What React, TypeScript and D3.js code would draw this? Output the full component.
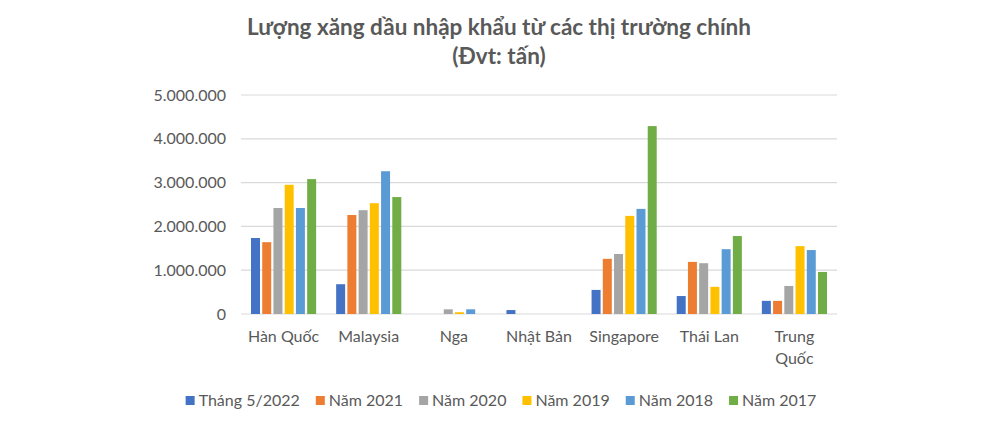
import { useRef, useEffect } from 'react';
import * as d3 from 'd3';

const CATEGORIES = ["Hàn Quốc", "Malaysia", "Nga", "Nhật Bản", "Singapore", "Thái Lan", "Trung Quốc"];
const SERIES = ["Tháng 5/2022", "Năm 2021", "Năm 2020", "Năm 2019", "Năm 2018", "Năm 2017"];
const COLORS = ["#4472C4", "#ED7D31", "#A5A5A5", "#FFC000", "#5B9BD5", "#70AD47"];

// values in tons, one array per series, ordered like CATEGORIES
const THANG_5_2022 = [1735000, 680000, 0, 90000, 550000, 410000, 300000];
const NAM_2021 = [1640000, 2260000, 0, 0, 1260000, 1190000, 300000];
const NAM_2020 = [2420000, 2370000, 107000, 0, 1370000, 1160000, 640000];
const NAM_2019 = [2950000, 2530000, 40000, 0, 2240000, 620000, 1550000];
const NAM_2018 = [2420000, 3260000, 107000, 0, 2400000, 1480000, 1460000];
const NAM_2017 = [3080000, 2670000, 0, 0, 4290000, 1780000, 960000];
const VALUES = [THANG_5_2022, NAM_2021, NAM_2020, NAM_2019, NAM_2018, NAM_2017];

const Y_TICKS = [0, 1000000, 2000000, 3000000, 4000000, 5000000];

const FONT = "Lato, 'Open Sans', sans-serif";
const TEXT_COLOR = "#595959";

function App() {
  const svgRef = useRef<SVGSVGElement>(null);

  useEffect(() => {
    const svg = d3.select(svgRef.current);
    svg.selectAll("*").remove();

    const W = 995, H = 441;
    const margin = { top: 95, right: 158, bottom: 127, left: 241 };
    const width = W - margin.left - margin.right;
    const height = H - margin.top - margin.bottom;

    // title
    const title = svg.append("text")
      .attr("x", 499).attr("y", 35)
      .attr("text-anchor", "middle")
      .style("font-family", FONT).style("font-size", "22.5px").style("font-weight", "bold")
      .style("fill", TEXT_COLOR);
    title.append("tspan").attr("x", 499).text("Lượng xăng dầu nhập khẩu từ các thị trường chính");
    title.append("tspan").attr("x", 499).attr("dy", 29).text("(Đvt: tấn)");

    const g = svg.append("g").attr("transform", `translate(${margin.left},${margin.top})`);

    const y = d3.scaleLinear().domain([0, 5000000]).range([height, 0]);
    const x0 = d3.scaleBand().domain(CATEGORIES).range([0, width]).paddingInner(0.235).paddingOuter(0.1175);
    const x1 = d3.scaleBand().domain(SERIES).range([0, x0.bandwidth()]).paddingInner(0.2);

    const fmt = (v: number) => d3.format(",")(v).replace(/,/g, ".");

    // grid
    g.append("g").selectAll("line").data(Y_TICKS).enter().append("line")
      .attr("x1", 0).attr("x2", width)
      .attr("y1", d => y(d)).attr("y2", d => y(d))
      .attr("stroke", "#D9D9D9").attr("stroke-width", 1.2);

    // y labels
    g.append("g").selectAll("text").data(Y_TICKS).enter().append("text")
      .attr("x", -15).attr("y", d => y(d)).attr("dy", "0.35em")
      .attr("text-anchor", "end")
      .style("font-family", FONT).style("font-size", "16px").style("fill", TEXT_COLOR)
      .text(d => fmt(d));

    // bars
    const groups = g.selectAll("g.cat").data(CATEGORIES).enter().append("g")
      .attr("class", "cat")
      .attr("transform", d => `translate(${x0(d)},0)`);

    groups.selectAll("rect")
      .data((c, ci) => SERIES.map((s, si) => ({ s, si, v: VALUES[si][ci] })))
      .enter().append("rect")
      .attr("x", d => x1(d.s)!)
      .attr("width", x1.bandwidth())
      .attr("y", d => y(d.v))
      .attr("height", d => height - y(d.v))
      .attr("fill", d => COLORS[d.si]);

    // x labels (wrapped like Excel)
    const xl = g.append("g").selectAll("text").data(CATEGORIES).enter().append("text")
      .attr("y", height + 28)
      .attr("text-anchor", "middle")
      .style("font-family", FONT).style("font-size", "16px").style("fill", TEXT_COLOR);
    xl.each(function (d) {
      const t = d3.select(this);
      const cx = x0(d)! + x0.bandwidth() / 2;
      const lines = d === "Trung Quốc" ? ["Trung", "Quốc"] : [d];
      lines.forEach((ln, i) => {
        t.append("tspan").attr("x", cx).attr("dy", i === 0 ? 0 : 22).text(ln);
      });
    });

    // legend
    const legend = svg.append("g").attr("transform", `translate(0,${406})`);
    const items = legend.selectAll("g").data(SERIES).enter().append("g");
    items.append("rect").attr("width", 9).attr("height", 9).attr("y", -10)
      .attr("fill", (d, i) => COLORS[i]);
    items.append("text").attr("x", 13).attr("y", 0)
      .style("font-family", FONT).style("font-size", "16px").style("fill", TEXT_COLOR)
      .text(d => d);
    const widths: number[] = [];
    items.select("text").each(function () {
      widths.push(13 + (this as SVGTextElement).getComputedTextLength());
    });
    const gap = 16;
    const total = d3.sum(widths) + gap * (widths.length - 1);
    let cur = 501 - total / 2;
    items.attr("transform", (d, i) => {
      const tx = cur;
      cur += widths[i] + gap;
      return `translate(${tx},0)`;
    });
  }, []);

  return <svg ref={svgRef} width={995} height={441} style={{ display: "block", position: "absolute", left: 0, top: 0 }} />;
}

export default App;
